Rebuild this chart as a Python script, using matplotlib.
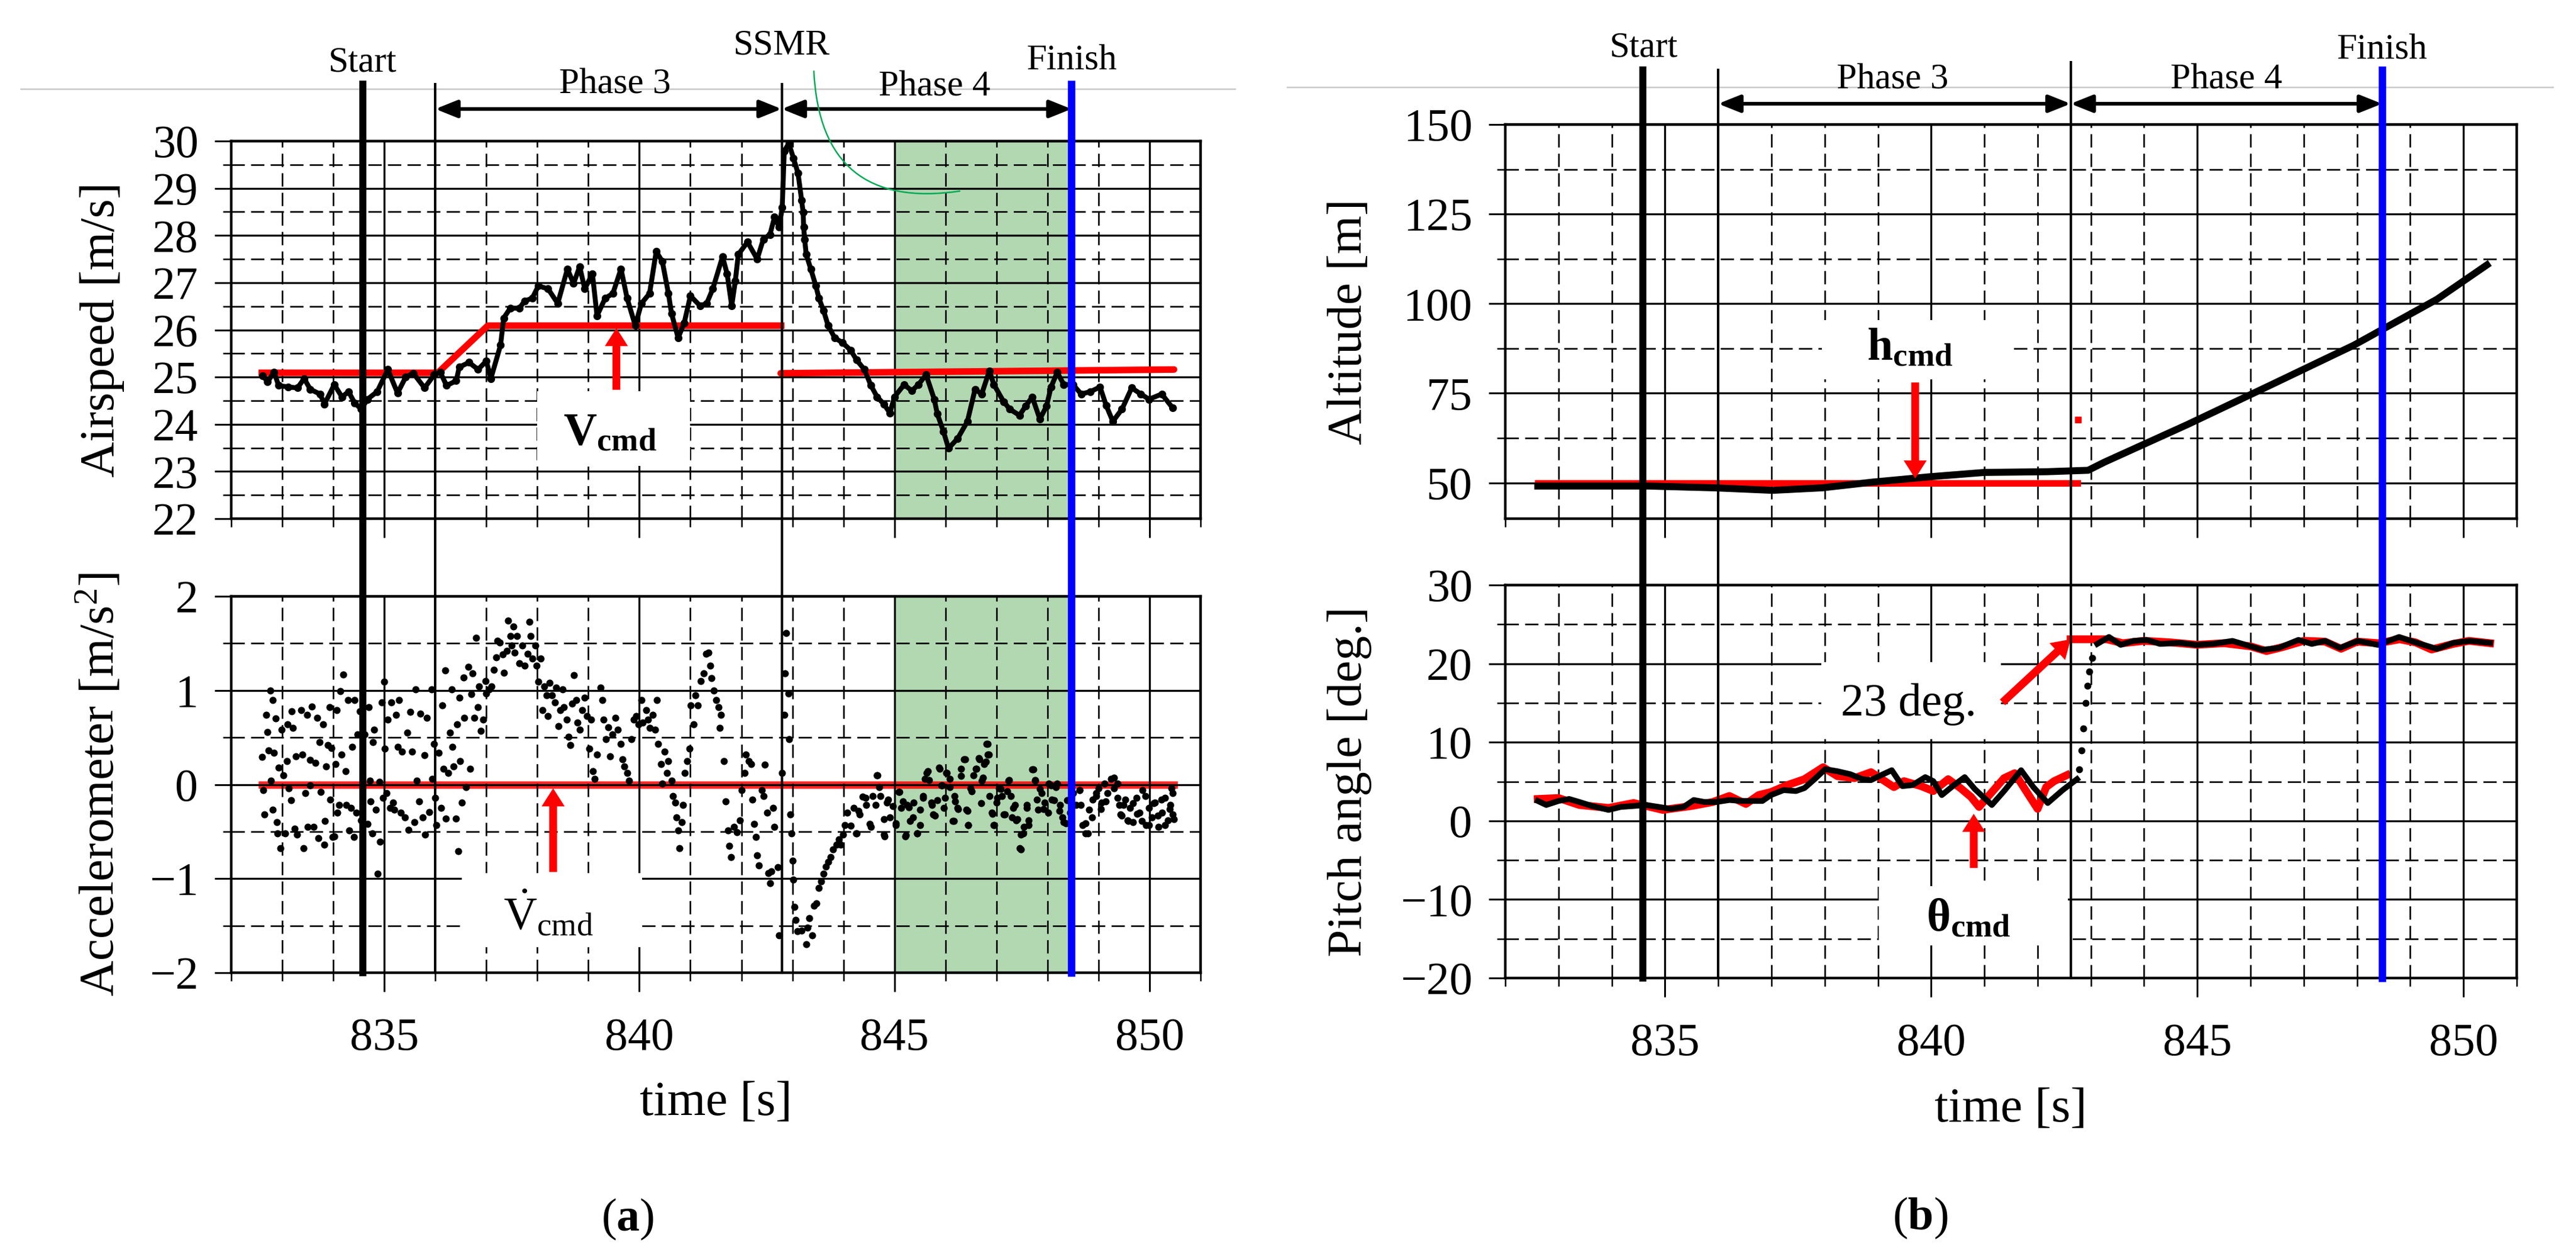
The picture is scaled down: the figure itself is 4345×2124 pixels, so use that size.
import numpy as np
import matplotlib
matplotlib.use('Agg')
import matplotlib.pyplot as plt
from matplotlib.ticker import MultipleLocator, FixedLocator
from matplotlib.patches import Rectangle
from matplotlib.lines import Line2D

plt.rcParams['font.family'] = ['Liberation Serif', 'DejaVu Serif']
plt.rcParams['mathtext.fontset'] = 'custom'
plt.rcParams['mathtext.rm'] = 'Liberation Serif'
plt.rcParams['mathtext.it'] = 'Liberation Serif:italic'
plt.rcParams['mathtext.bf'] = 'Liberation Serif:bold'

# ---------------- data ----------------
xticks = [835, 840, 845, 850]

# Airspeed [m/s]
t_as = [832.62, 832.71, 832.84, 832.93, 833.12, 833.30, 833.43, 833.55, 833.74, 833.83,
        834.02, 834.17, 834.30, 834.42, 834.55, 834.67, 834.86, 835.07, 835.26, 835.42,
        835.57, 835.79, 835.98, 836.10, 836.22, 836.41, 836.47, 836.66, 836.84, 837.00,
        837.09, 837.28, 837.34, 837.47, 837.65, 837.75, 837.90, 838.02, 838.21, 838.40,
        838.59, 838.71, 838.83, 838.93, 839.08, 839.17, 839.33, 839.48, 839.64, 839.76,
        839.92, 840.04, 840.20, 840.33, 840.45, 840.57, 840.63, 840.76, 840.88, 841.00,
        841.19, 841.32, 841.44, 841.63, 841.72, 841.81, 841.88, 841.94, 842.12, 842.31,
        842.43, 842.56, 842.65, 842.74, 842.80, 842.84, 842.93, 843.02, 843.11, 843.18,
        843.21, 843.22, 843.24, 843.27, 843.36, 843.46, 843.52, 843.61, 843.70, 843.83,
        843.98, 844.14, 844.26, 844.41, 844.54, 844.66, 844.79, 844.91, 845.00, 845.19,
        845.34, 845.47, 845.62, 845.78, 845.84, 845.96, 846.06, 846.24, 846.43, 846.58,
        846.71, 846.86, 846.95, 847.14, 847.26, 847.45, 847.57, 847.70, 847.85, 847.98,
        848.07, 848.19, 848.32, 848.50, 848.66, 848.84, 849.03, 849.15, 849.28, 849.46,
        849.65, 849.83, 849.99, 850.24, 850.45]
v_as = [25.03, 24.90, 25.10, 24.82, 24.79, 24.77, 24.97, 24.74, 24.64, 24.43,
        24.84, 24.58, 24.69, 24.45, 24.32, 24.53, 24.69, 25.16, 24.66, 25.00,
        25.08, 24.77, 25.05, 25.10, 24.82, 24.92, 25.21, 25.31, 25.16, 25.34,
        24.97, 25.68, 26.25, 26.46, 26.46, 26.61, 26.67, 26.93, 26.87, 26.56,
        27.29, 26.98, 27.34, 26.87, 27.19, 26.30, 26.67, 26.77, 27.29, 26.67,
        26.09, 26.56, 26.77, 27.66, 27.45, 26.77, 26.35, 25.83, 26.15, 26.72,
        26.51, 26.56, 26.87, 27.55, 27.19, 26.51, 27.03, 27.60, 27.86, 27.50,
        27.92, 28.02, 28.39, 28.18, 28.59, 29.79, 29.95, 29.64, 29.32, 28.75,
        28.49, 28.18, 27.92, 27.60, 27.29, 26.93, 26.67, 26.41, 26.09, 25.83,
        25.73, 25.57, 25.36, 25.16, 24.82, 24.58, 24.43, 24.24, 24.58, 24.84,
        24.71, 24.84, 25.05, 24.53, 24.22, 23.85, 23.49, 23.70, 24.06, 24.74,
        24.64, 25.13, 24.84, 24.48, 24.32, 24.19, 24.38, 24.58, 24.11, 24.38,
        24.79, 25.10, 24.84, 24.84, 24.64, 24.69, 24.79, 24.40, 24.06, 24.32,
        24.77, 24.64, 24.53, 24.64, 24.35]
# commanded airspeed
t_vcmd_a = [832.60, 836.05, 837.03, 842.78]
v_vcmd_a = [25.09, 25.09, 26.09, 26.09]
t_vcmd_b = [842.77, 850.48]
v_vcmd_b = [25.08, 25.16]

# Accelerometer [m/s^2]
t_acc = [832.61, 832.63, 832.65, 832.68, 832.71, 832.73, 832.77, 832.78, 832.81, 832.81,
         832.84, 832.87, 832.89, 832.91, 832.93, 832.96, 832.99, 833.02, 833.06, 833.09,
         833.10, 833.13, 833.17, 833.18, 833.21, 833.24, 833.27, 833.29, 833.37, 833.40,
         833.42, 833.45, 833.49, 833.50, 833.54, 833.55, 833.58, 833.61, 833.65, 833.69,
         833.71, 833.73, 833.76, 833.80, 833.82, 833.84, 833.86, 833.89, 833.93, 833.94,
         833.96, 833.99, 834.02, 834.04, 834.07, 834.08, 834.11, 834.14, 834.16, 834.20,
         834.24, 834.25, 834.29, 834.31, 834.35, 834.37, 834.41, 834.42, 834.45, 834.47,
         834.52, 834.55, 834.61, 834.67, 834.70, 834.72, 834.73, 834.76, 834.78, 834.80,
         834.83, 834.87, 834.91, 834.92, 834.95, 834.98, 835.00, 835.01, 835.04, 835.07,
         835.11, 835.14, 835.17, 835.20, 835.23, 835.26, 835.29, 835.32, 835.35, 835.40,
         835.45, 835.48, 835.51, 835.55, 835.59, 835.61, 835.64, 835.68, 835.71, 835.75,
         835.79, 835.80, 835.84, 835.88, 835.93, 835.94, 835.98, 836.00, 836.02, 836.07,
         836.11, 836.14, 836.16, 836.19, 836.21, 836.25, 836.29, 836.32, 836.34, 836.36,
         836.40, 836.43, 836.45, 836.47, 836.49, 836.52, 836.55, 836.57, 836.60, 836.65,
         836.68, 836.71, 836.73, 836.77, 836.80, 836.84, 836.86, 836.89, 836.94, 836.98,
         837.00, 837.05, 837.10, 837.15, 837.19, 837.22, 837.27, 837.32, 837.35, 837.40,
         837.43, 837.47, 837.50, 837.53, 837.56, 837.60, 837.65, 837.70, 837.75, 837.81,
         837.84, 837.87, 837.90, 837.96, 837.99, 838.02, 838.07, 838.10, 838.14, 838.18,
         838.21, 838.24, 838.29, 838.34, 838.37, 838.41, 838.45, 838.50, 838.52, 838.58,
         838.61, 838.65, 838.68, 838.72, 838.76, 838.79, 838.83, 838.88, 838.93, 838.97,
         839.02, 839.05, 839.09, 839.12, 839.17, 839.24, 839.27, 839.30, 839.34, 839.39,
         839.42, 839.47, 839.53, 839.58, 839.63, 839.67, 839.71, 839.76, 839.80, 839.84,
         839.89, 839.94, 839.98, 840.04, 840.07, 840.13, 840.17, 840.21, 840.26, 840.31,
         840.34, 840.37, 840.42, 840.45, 840.50, 840.54, 840.57, 840.63, 840.66, 840.70,
         840.73, 840.76, 840.79, 840.83, 840.85, 840.89, 840.94, 840.98, 841.01, 841.06,
         841.10, 841.15, 841.20, 841.26, 841.31, 841.35, 841.39, 841.41, 841.46, 841.50,
         841.55, 841.57, 841.60, 841.66, 841.69, 841.74, 841.76, 841.80, 841.85, 841.91,
         841.97, 842.01, 842.06, 842.09, 842.15, 842.19, 842.22, 842.25, 842.28, 842.31,
         842.34, 842.40, 842.43, 842.46, 842.50, 842.53, 842.56, 842.59, 842.62, 842.65,
         842.71, 842.74, 842.79, 842.84, 842.85, 842.88, 842.92, 842.94, 842.96, 842.98,
         843.00, 843.02, 843.04, 843.06, 843.10, 843.18, 843.27, 843.30, 843.33, 843.39,
         843.42, 843.47, 843.52, 843.56, 843.61, 843.66, 843.70, 843.75, 843.80, 843.86,
         843.91, 843.95, 843.99, 844.03, 844.07, 844.14, 844.20, 844.26, 844.32, 844.38,
         844.45, 844.51, 844.57, 844.63, 844.67, 844.72, 844.80, 844.85, 844.91, 844.97,
         845.03, 845.08, 845.13, 845.21, 845.25, 845.31, 845.37, 845.44, 845.50, 845.56,
         845.60, 845.65, 845.72, 845.76, 845.84, 845.89, 845.93, 845.97, 846.02, 846.09,
         846.14, 846.18, 846.24, 846.30, 846.36, 846.41, 846.45, 846.49, 846.55, 846.61,
         846.66, 846.71, 846.76, 846.80, 846.83, 846.86, 846.91, 846.95, 847.00, 847.05,
         847.11, 847.17, 847.23, 847.28, 847.33, 847.39, 847.45, 847.48, 847.54, 847.59,
         847.63, 847.70, 847.76, 847.82, 847.88, 847.94, 848.01, 848.07, 848.13, 848.19,
         848.25, 848.32, 848.38, 848.44, 848.50, 848.56, 848.63, 848.69, 848.75, 848.81,
         848.87, 848.95, 849.00, 849.06, 849.12, 849.18, 849.24, 849.30, 849.37, 849.43,
         849.49, 849.57, 849.62, 849.68, 849.74, 849.80, 849.86, 849.93, 849.99, 850.05,
         850.11, 850.17, 850.24, 850.30, 850.36, 850.41, 850.43, 850.45,
         # second pass over the dense phase-4 band
         844.25, 844.30, 844.43, 844.54, 844.65, 844.70, 844.79, 844.81, 844.88, 845.03,
         845.10, 845.17, 845.23, 845.28, 845.36, 845.45, 845.50, 845.56, 845.63, 845.68,
         845.74, 845.79, 845.88, 845.92, 845.99, 846.03, 846.08, 846.16, 846.19, 846.25,
         846.30, 846.39, 846.43, 846.45, 846.52, 846.59, 846.65, 846.70, 846.74, 846.79,
         846.83, 846.85, 846.92, 846.96, 847.01, 847.08, 847.14, 847.21, 847.25, 847.30,
         847.36, 847.41, 847.48, 847.52, 847.59, 847.63, 847.72, 847.76, 847.79, 847.85,
         847.92, 848.03, 848.08, 848.16, 848.23, 848.29, 848.36, 848.63, 848.65, 848.74,
         848.79, 848.88, 848.96, 849.05, 849.14, 849.30, 849.37, 849.41, 849.45, 849.52,
         849.58, 849.67, 849.76, 849.85, 849.92, 849.99, 850.08, 850.16, 850.23, 850.30,
         850.39, 850.45, 850.48]
a_acc = [0.29, -0.06, -0.32, 0.74, 0.56, 0.36, 1.00, 0.04, -0.27, 0.90,
         0.34, 0.70, -0.40, -0.52, 0.18, -0.68, 0.58, 0.10, -0.52, 0.25,
         0.64, -0.04, -0.17, 0.78, 0.60, -0.47, 0.30, -0.53, 0.79, 0.32,
         -0.68, -0.09, 0.74, -0.45, -0.01, 0.26, 0.83, -0.45, 0.23, 0.71,
         -0.57, 0.45, -0.08, 0.64, -0.64, -0.39, 0.19, 0.42, 0.82, -0.16,
         0.39, -0.56, -0.55, 0.22, 0.79, -0.30, -0.22, 0.99, 0.32, 1.17,
         0.14, -0.22, 0.90, -0.49, -0.25, 0.40, -0.56, 0.90, -0.30, 0.53,
         0.78, -0.38, 0.53, -0.42, 0.82, 0.04, -0.18, -0.52, 0.45, 0.58,
         -0.27, -0.95, 0.03, -0.61, 0.87, -0.14, 1.09, 0.38, -0.09, 0.69,
         -0.25, 0.87, -0.19, -0.27, 0.74, 0.40, 0.90, -0.30, 0.35, -0.35,
         0.55, -0.48, 0.77, 0.35, -0.40, 1.01, 0.04, -0.18, 0.75, -0.35,
         0.31, -0.53, 0.71, -0.29, 1.01, 0.06, 0.43, -0.14, -0.43, 0.34,
         -0.25, 0.84, 0.17, 1.21, -0.36, 0.12, 0.55, 1.01, 0.40, 0.19,
         -0.36, 0.64, -0.71, 0.92, 0.25, -0.19, 1.14, 0.71, -0.03, 1.25,
         0.17, 0.96, 1.18, 0.71, 1.56, 0.82, 1.04, 0.57, 0.69, 1.10,
         0.97, 1.01, 1.04, 1.22, 1.35, 1.53, 1.51, 1.38, 1.19, 1.42,
         1.74, 1.58, 1.48, 1.68, 1.40, 1.58, 1.29, 1.48, 1.26, 1.39,
         1.73, 1.58, 1.34, 1.48, 1.26, 1.09, 1.34, 0.79, 1.04, 0.95,
         0.73, 1.08, 0.95, 0.87, 1.03, 0.62, 0.79, 1.01, 0.82, 0.69,
         0.51, 0.42, 0.86, 1.16, 0.90, 0.66, 0.58, 0.79, 0.92, 0.73,
         0.38, 0.69, 0.14, 0.06, 0.32, 1.03, 0.90, 0.69, 0.48, 0.61,
         0.30, 0.53, 0.71, 0.58, 0.43, 0.27, 0.19, 0.12, 0.04, 0.48,
         0.69, 0.73, 0.64, 0.90, 0.66, 0.79, 0.69, 0.60, 0.74, 0.58,
         0.90, 0.43, 0.22, 0.01, 0.35, 0.12, 0.25, 0.04, -0.12, -0.19,
         -0.35, -0.49, -0.68, -0.40, -0.22, 0.12, 0.25, 0.38, 0.84, 0.64,
         0.95, 0.84, 1.10, 1.18, 1.39, 1.40, 1.26, 1.13, 1.00, 0.90,
         0.82, 0.60, 0.74, 0.25, -0.18, -0.49, -0.65, -0.77, -0.45, -0.51,
         -0.38, -0.06, 0.12, 0.32, 0.25, 0.22, -0.16, -0.42, -0.56, -0.75,
         -0.86, -0.06, -0.12, 0.21, -0.30, -0.94, -1.05, -0.92, -0.25, -0.45,
         -0.88, -1.60, 0.12, 0.74, 1.18, 1.61, 0.97, 0.48, -0.32, -0.52,
         -0.81, -1.01, -1.30, -1.44, -1.56, -1.55, -1.70, -1.52, -1.42, -1.60,
         -1.29, -1.26, -1.10, -1.03, -0.95, -0.87, -0.82, -0.77, -0.69, -0.64,
         -0.58, -0.64, -0.53, -0.43, -0.30, -0.44, -0.25, -0.52, -0.32, -0.13,
         -0.22, -0.42, -0.12, -0.22, 0.10, -0.12, -0.53, -0.19, -0.35, -0.23,
         -0.43, -0.08, -0.25, -0.55, -0.22, -0.39, -0.19, -0.52, -0.27, -0.12,
         0.06, 0.14, -0.19, -0.32, -0.17, 0.17, -0.01, -0.25, 0.12, 0.06,
         -0.39, -0.12, -0.25, 0.17, 0.27, -0.27, -0.43, -0.04, 0.10, 0.17,
         0.27, 0.04, 0.22, 0.43, 0.32, -0.12, -0.30, -0.43, -0.19, -0.04,
         -0.12, -0.32, 0.04, -0.12, -0.25, -0.38, -0.68, -0.53, -0.45, -0.25,
         -0.38, 0.16, 0.04, -0.27, -0.09, -0.19, -0.30, -0.01, -0.17, 0.01,
         -0.22, -0.40, -0.17, -0.30, -0.09, -0.22, -0.06, -0.43, -0.52, -0.27,
         -0.35, -0.12, -0.04, -0.19, 0.01, -0.09, 0.06, -0.04, -0.14, -0.32,
         -0.22, -0.38, -0.25, -0.40, -0.14, -0.30, -0.06, -0.43, -0.25, -0.35,
         -0.19, -0.45, -0.30, -0.14, -0.38, -0.22, -0.04, -0.32,
         # second pass over the dense phase-4 band
         -0.52, -0.28, -0.14, -0.45, 0.10, -0.03, -0.37, -0.55, -0.16, -0.41,
         -0.08, -0.18, -0.54, -0.24, -0.35, -0.52, -0.43, -0.14, 0.12, 0.05,
         -0.22, -0.33, 0.18, -0.01, -0.14, 0.12, -0.03, -0.39, -0.18, -0.26,
         0.09, 0.27, -0.28, -0.43, -0.07, 0.17, 0.28, -0.20, 0.07, 0.24,
         0.43, 0.32, -0.31, -0.43, -0.14, -0.05, -0.32, -0.07, 0.05, -0.35,
         -0.22, -0.37, -0.69, -0.52, -0.22, -0.43, 0.16, 0.05, -0.16, -0.05,
         -0.26, 0.01, -0.16, -0.03, -0.28, -0.35, -0.41, -0.06, -0.22, -0.41,
         -0.52, -0.16, -0.09, -0.26, -0.18, 0.07, 0.01, -0.22, -0.33, -0.16,
         -0.39, -0.20, -0.31, -0.39, -0.12, -0.43, -0.20, -0.33, -0.16, -0.43,
         -0.26, -0.09, -0.37]
t_acmd = [832.60, 850.48]
a_acmd = [0.0, 0.0]

# Altitude [m]
t_h = [832.61, 834.68, 835.93, 837.02, 837.95, 838.90, 839.98, 841.00, 842.17, 842.95,
       843.26, 844.82, 846.38, 847.94, 849.50, 850.44]
h = [49.1, 49.1, 48.6, 47.9, 48.6, 50.2, 51.7, 52.9, 53.1, 53.5,
     55.8, 66.3, 77.3, 88.4, 101.2, 110.8]
t_hcmd = [832.61, 842.75]
hcmd = [49.9, 49.9]
t_hcmd_dot = [842.76]
hcmd_dot = [67.7]

# Pitch angle [deg]
t_th = [832.61, 832.77, 833.00, 833.20, 833.39, 833.63, 833.94, 834.17, 834.41, 834.64,
        834.88, 835.11, 835.35, 835.54, 835.74, 835.97, 836.21, 836.44, 836.68, 836.83,
        836.99, 837.23, 837.46, 837.62, 837.81, 838.01, 838.24, 838.48, 838.71, 838.87,
        839.06, 839.26, 839.46, 839.65, 839.89, 840.04, 840.20, 840.43, 840.63, 840.82,
        841.14, 841.37, 841.69, 841.92, 842.19, 842.47, 842.74,
        842.78, 842.82, 842.86, 842.90, 842.94, 842.97, 843.03,
        843.12, 843.34, 843.56, 843.80, 844.05, 844.30, 844.67, 844.98, 845.29, 845.66,
        845.91, 846.22, 846.53, 846.90, 847.15, 847.40, 847.68, 848.02, 848.39, 848.79,
        849.13, 849.50, 849.81, 850.12, 850.50]
theta = [2.53, 2.02, 2.53, 2.78, 2.40, 1.89, 1.39, 1.77, 1.89, 2.02,
         1.77, 1.52, 1.77, 2.65, 2.40, 2.40, 2.65, 2.53, 2.53, 2.53,
         3.28, 3.91, 3.79, 4.17, 5.30, 6.57, 6.31, 5.93, 5.30, 5.18,
         5.81, 6.44, 4.42, 4.55, 5.56, 5.05, 3.28, 4.55, 5.56, 4.04,
         2.02, 3.79, 6.44, 4.29, 2.27, 3.91, 5.30,
         6.57, 8.96, 11.74, 15.00, 17.20, 19.00, 20.75,
         22.51, 23.39, 22.39, 22.89, 23.02, 22.51, 22.64, 22.39, 22.51, 22.89,
         22.39, 21.76, 22.01, 23.02, 22.51, 22.89, 22.01, 22.89, 22.39, 23.39,
         22.64, 21.88, 22.64, 22.89, 22.64]
t_thc = [832.61, 833.00, 833.39, 833.94, 834.41, 834.96, 835.50, 835.90, 836.21, 836.52,
         836.76, 836.99, 837.30, 837.62, 837.97, 838.24, 838.56, 838.87, 839.10, 839.30,
         839.49, 839.81, 840.04, 840.32, 840.55, 840.75, 840.90, 841.06, 841.37, 841.57,
         841.76, 842.00, 842.16, 842.31, 842.55,
         842.62, 843.30, 843.60, 844.00, 844.50, 845.00, 845.50, 846.00, 846.30, 846.60,
         847.00, 847.40, 847.70, 848.00, 848.40, 848.80, 849.10, 849.40, 849.80, 850.10,
         850.50]
theta_cmd = [2.78, 2.90, 2.02, 1.64, 2.27, 1.39, 1.89, 2.40, 3.16, 2.15,
             3.28, 3.66, 4.55, 5.30, 6.82, 5.68, 5.43, 6.19, 5.18, 4.29,
             5.05, 4.42, 3.79, 5.30, 4.17, 3.03, 1.77, 3.03, 5.43, 6.06,
             4.04, 1.52, 4.29, 5.05, 5.81,
             23.10, 23.10, 22.60, 22.90, 22.70, 22.40, 22.60, 22.20, 21.60, 22.10,
             22.90, 22.80, 21.90, 22.80, 22.60, 23.10, 22.70, 21.80, 22.50, 22.90,
             22.60]

# event times
t_start = 834.58
t_phase3 = 836.0
t_ssmr_a = 842.79
t_ssmr_b = 842.62
t_finish = 848.47
green_span = (845.0, 848.47)

# ---------------- figure ----------------
W, H = 4345, 2124
fig = plt.figure(figsize=(W / 100, H / 100), dpi=100)


def add_ax(x0, x1, ytop, ybot):
    return fig.add_axes([x0 / W, 1 - ybot / H, (x1 - x0) / W, (ybot - ytop) / H])


ax1 = add_ax(390, 2025, 238, 875)
ax2 = add_ax(390, 2025, 1006, 1641)
ax3 = add_ax(2539, 4245, 210, 875)
ax4 = add_ax(2539, 4245, 987, 1650)

TICK_FS = 56
LAB_FS = 60
ANN_FS = 44
TXT_FS = 56


def style(ax, ylim, ymaj, ymin, xlabels):
    ax.set_xlim(832, 851)
    ax.set_ylim(*ylim)
    ax.xaxis.set_major_locator(FixedLocator(xticks))
    ax.xaxis.set_minor_locator(MultipleLocator(1))
    ax.yaxis.set_major_locator(MultipleLocator(ymaj))
    ax.yaxis.set_minor_locator(MultipleLocator(ymin))
    ax.set_axisbelow('line')
    ax.grid(which='major', color='black', lw=2.4, ls='-')
    ax.grid(which='minor', color='black', lw=1.9, ls=(0, (8.5, 4)))
    for s in ax.spines.values():
        s.set_linewidth(3.2)
    ax.tick_params(axis='y', which='major', direction='out', length=20, width=2.2,
                   pad=20, labelsize=TICK_FS)
    ax.tick_params(axis='y', which='minor', direction='out', length=10, width=1.8)
    ax.tick_params(axis='x', which='major', direction='out', length=23, width=2.2,
                   pad=31, labelsize=TICK_FS, labelbottom=xlabels)
    ax.tick_params(axis='x', which='minor', direction='out', length=10, width=1.8)


style(ax1, (22, 30), 1, 0.5, False)
style(ax2, (-2, 2), 1, 0.5, True)
style(ax3, (40, 150), 25, 12.5, False)
style(ax4, (-20, 30), 10, 5, True)

# ---- (a) airspeed ----
ax1.axvspan(*green_span, color='green', alpha=0.3, lw=0, zorder=1)
ax1.plot(t_vcmd_a, v_vcmd_a, color='red', lw=8, zorder=2)
ax1.plot(t_vcmd_b, v_vcmd_b, color='red', lw=8, solid_capstyle='round', zorder=2)
ax1.plot(t_as, v_as, color='black', lw=6, marker='o', ms=8.5, zorder=2.2)
ax1.set_ylabel('Airspeed [m/s]', fontsize=LAB_FS)
ax1.yaxis.set_label_coords(-0.110, 0.5)

# ---- (a) accelerometer ----
ax2.axvspan(*green_span, color='green', alpha=0.3, lw=0, zorder=1)
ax2.plot(t_acmd, a_acmd, color='red', lw=9, alpha=0.85, zorder=1.2)
ax2.scatter(t_acc, a_acc, s=75, color='black', lw=0, zorder=2.2)
ax2.set_ylabel(r'Accelerometer [m/s$^2$]', fontsize=LAB_FS)
ax2.yaxis.set_label_coords(-0.110, 0.5)
ax2.set_xlabel('time [s]', fontsize=LAB_FS)
ax2.xaxis.set_label_coords(0.5, -0.288)

# ---- (b) altitude ----
ax3.plot(t_hcmd, hcmd, color='red', lw=8, zorder=2)
ax3.plot(t_hcmd_dot, hcmd_dot, 's', color='red', ms=7, zorder=2)
ax3.plot(t_h, h, color='black', lw=8.5, zorder=2.2)
ax3.set_ylabel('Altitude [m]', fontsize=LAB_FS)
ax3.yaxis.set_label_coords(-0.132, 0.5)

# ---- (b) pitch ----
tt = np.array(t_th)
th = np.array(theta)
tc = np.array(t_thc)
thc = np.array(theta_cmd)
pre_c = tc < t_ssmr_b
ax4.plot(tc[pre_c], thc[pre_c], color='red', lw=9.5, zorder=2)
ax4.plot(tc[~pre_c], thc[~pre_c], color='red', lw=9.5, zorder=2)
pre = tt <= 842.75
jump = (tt > 842.75) & (tt < 843.05)
post = tt >= 843.05
ax4.plot(tt[pre], th[pre], color='black', lw=7, zorder=2.2)
ax4.plot(tt[jump], th[jump], 'o', color='black', ms=7.5, zorder=2.2)
ax4.plot(tt[post], th[post], color='black', lw=7, zorder=2.2)
ax4.set_ylabel('Pitch angle [deg.]', fontsize=LAB_FS)
ax4.yaxis.set_label_coords(-0.132, 0.5)
ax4.set_xlabel('time [s]', fontsize=LAB_FS)
ax4.xaxis.set_label_coords(0.5, -0.279)

# ---- white label boxes, labels and red arrows ----
ARROW = 'simple,head_length=2.2,head_width=2.8,tail_width=0.95'


def label_box(ax, x0, x1, y0, y1, xt, yt, text):
    ax.add_patch(Rectangle((x0, y0), x1 - x0, y1 - y0, facecolor='white',
                           edgecolor='none', zorder=2.6))
    ax.text(xt, yt, text, ha='center', va='center', fontsize=TXT_FS, zorder=3)


def red_arrow(ax, tail, tip):
    ax.annotate('', xy=tip, xytext=tail,
                arrowprops=dict(arrowstyle=ARROW, color='red', lw=0,
                                shrinkA=0, shrinkB=0, mutation_scale=10),
                zorder=3)


label_box(ax1, 838.0, 841.0, 23.12, 24.70, 839.43, 23.80, r'$\mathbf{V}_{\mathbf{cmd}}$')
red_arrow(ax1, (839.55, 24.73), (839.55, 26.04))

label_box(ax2, 836.52, 840.05, -1.73, -0.94, 838.22, -1.38, r'$\dot{\mathrm{V}}_{\mathrm{cmd}}$')
red_arrow(ax2, (838.31, -0.93), (838.31, -0.04))

label_box(ax3, 837.95, 841.46, 78.9, 95.4, 839.60, 87.3, r'$\mathbf{h}_{\mathbf{cmd}}$')
red_arrow(ax3, (839.70, 78.0), (839.70, 51.2))

label_box(ax4, 837.94, 841.31, 10.4, 20.2, 839.58, 14.8, '23 deg.')
red_arrow(ax4, (841.34, 15.07), (842.62, 23.1))

label_box(ax4, 839.02, 842.57, -15.85, -8.3, 840.70, -12.6,
          r'$\mathbf{θ}_{\mathbf{cmd}}$')
red_arrow(ax4, (840.80, -6.0), (840.80, 0.9))

# ---- event lines spanning both panels ----
ax2.axvline(t_start, ymin=0, ymax=2.361, color='black', lw=8.5, clip_on=False, zorder=5)
ax2.axvline(t_phase3, ymin=0, ymax=2.361, color='black', lw=3, clip_on=False, zorder=5)
ax2.axvline(t_ssmr_a, ymin=0, ymax=2.361, color='black', lw=3, clip_on=False, zorder=5)
ax2.axvline(t_finish, ymin=0, ymax=2.361, color='#0000ff', lw=9, clip_on=False, zorder=5)

ax4.axvline(t_start, ymin=0, ymax=2.311, color='black', lw=8.5, clip_on=False, zorder=5)
ax4.axvline(t_phase3, ymin=0, ymax=2.311, color='black', lw=3, clip_on=False, zorder=5)
ax4.axvline(t_ssmr_b, ymin=0, ymax=2.330, color='black', lw=3, clip_on=False, zorder=5)
ax4.axvline(t_finish, ymin=0, ymax=2.311, color='#0000ff', lw=9, clip_on=False, zorder=5)

# ---- phase arrows and event labels above the panels ----
PHASE_ARROW = dict(arrowstyle='<|-|>,head_length=0.75,head_width=0.3', lw=4.5,
                   color='black', shrinkA=0, shrinkB=0, mutation_scale=30)


def phase_arrow(ax, x0, x1, y):
    tr = ax.get_xaxis_transform()
    ax.annotate('', xy=(x1, y), xytext=(x0, y), xycoords=tr, textcoords=tr,
                arrowprops=PHASE_ARROW, annotation_clip=False)


def top_text(ax, x, y, s):
    ax.text(x, y, s, transform=ax.get_xaxis_transform(), ha='center', va='center',
            fontsize=ANN_FS, clip_on=False)


phase_arrow(ax1, t_phase3, t_ssmr_a, 1.085)
phase_arrow(ax1, t_ssmr_a, t_finish, 1.085)
top_text(ax1, t_start, 1.207, 'Start')
top_text(ax1, t_ssmr_a, 1.253, 'SSMR')
top_text(ax1, 839.52, 1.149, 'Phase 3')
top_text(ax1, 845.78, 1.144, 'Phase 4')
top_text(ax1, t_finish, 1.212, 'Finish')

phase_arrow(ax3, t_phase3, t_ssmr_b, 1.0526)
phase_arrow(ax3, t_ssmr_b, t_finish, 1.0526)
top_text(ax3, 834.60, 1.194, 'Start')
top_text(ax3, 839.28, 1.113, 'Phase 3')
top_text(ax3, 845.55, 1.113, 'Phase 4')
top_text(ax3, t_finish, 1.188, 'Finish')

# SSMR pointer curve
ax1.annotate('', xy=(846.28, 28.94), xytext=(843.42, 31.48),
             arrowprops=dict(arrowstyle='-', color='#00aa55', lw=1.8,
                             connectionstyle='arc3,rad=0.55', shrinkA=0, shrinkB=0),
             annotation_clip=False, zorder=4)

# thin gray separator lines at the top
fig.add_artist(Line2D([35 / W, 2083 / W], [1 - 150 / H] * 2, transform=fig.transFigure,
                      color='#c8c8c8', lw=1.8, zorder=-1))
fig.add_artist(Line2D([2171 / W, 4306 / W], [1 - 147 / H] * 2, transform=fig.transFigure,
                      color='#c8c8c8', lw=1.8, zorder=-1))

# panel captions
fig.text(1059 / W, 1 - 2057 / H, r'($\mathbf{a}$)', ha='center', va='center', fontsize=TXT_FS)
fig.text(3239 / W, 1 - 2055 / H, r'($\mathbf{b}$)', ha='center', va='center', fontsize=TXT_FS)

fig.savefig('out.png', dpi=100)
